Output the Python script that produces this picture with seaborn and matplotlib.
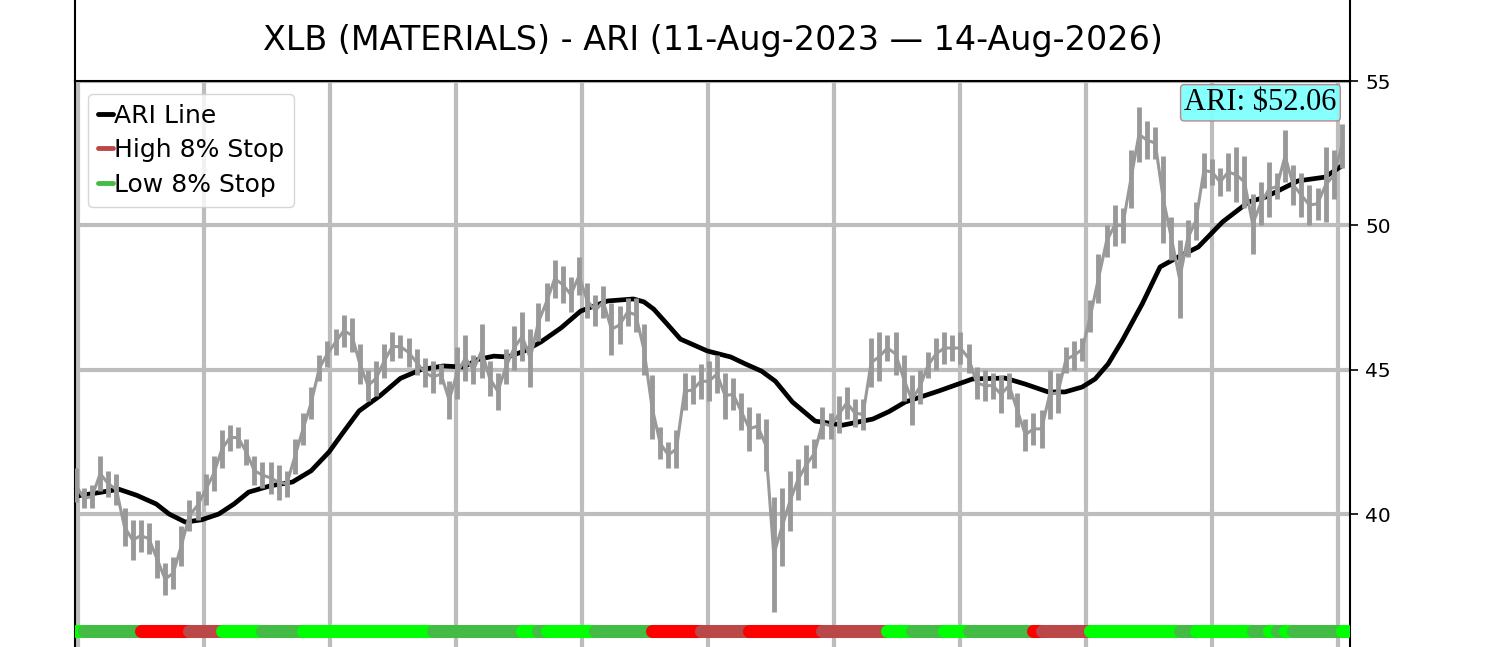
import numpy as np
import matplotlib
matplotlib.use("Agg")
import matplotlib.pyplot as plt
import seaborn as sns

# weekly price ranges, 11-Aug-2023 .. 14-Aug-2026
price_low = [40.4, 40.2, 40.2, 40.8, 40.6, 40.3, 38.9, 38.4, 38.7, 38.6,
             37.8, 37.2, 37.4, 38.2, 39.4, 39.8, 40.3, 40.8, 41.6, 42.2,
             42.3, 41.7, 41.0, 40.9, 40.7, 40.5, 40.6, 41.4, 42.4, 43.3,
             44.6, 45.1, 45.5, 45.8, 45.6, 44.5, 43.9, 44.1, 44.7, 45.3,
             45.4, 45.1, 44.8, 44.4, 44.2, 44.5, 43.3, 44.0, 44.6, 44.5,
             44.7, 44.1, 43.6, 44.5, 45.0, 45.3, 44.4, 46.0, 46.7, 47.5,
             47.3, 47.0, 47.6, 46.8, 46.5, 46.8, 45.5, 45.9, 46.5, 46.3,
             44.8, 42.6, 41.9, 41.6, 41.6, 43.6, 43.8, 44.0, 43.9, 44.2,
             43.3, 43.6, 42.9, 42.2, 42.6, 41.5, 36.6, 38.2, 39.4, 40.5,
             41.0, 41.6, 42.6, 42.6, 42.8, 43.3, 43.0, 42.9, 44.4, 44.6,
             45.3, 44.8, 43.9, 43.1, 43.8, 44.7, 45.0, 45.2, 45.3, 45.2,
             44.9, 44.0, 43.9, 44.0, 43.5, 44.0, 43.0, 42.2, 42.4, 42.3,
             43.3, 43.5, 44.9, 45.0, 45.3, 46.3, 47.3, 48.9, 49.3, 49.4,
             50.6, 52.2, 52.3, 52.3, 49.4, 48.8, 46.8, 48.9, 49.5, 51.3,
             51.4, 51.0, 51.2, 50.8, 50.6, 49.0, 50.0, 50.3, 50.9, 51.5,
             50.7, 50.3, 50.0, 50.2, 50.1, 50.9, 52.0]
price_high = [41.6, 40.9, 41.0, 42.0, 41.5, 41.4, 40.2, 39.8, 39.8, 39.7,
              39.1, 38.3, 38.5, 39.6, 40.5, 40.8, 41.4, 42.0, 42.9, 43.1,
              43.0, 42.6, 42.0, 41.8, 41.8, 41.7, 41.5, 42.6, 43.5, 44.4,
              45.5, 46.0, 46.4, 46.9, 46.8, 45.9, 45.0, 45.3, 45.9, 46.3,
              46.2, 46.1, 45.7, 45.4, 45.3, 45.2, 44.6, 45.8, 46.2, 45.5,
              46.6, 45.3, 44.9, 45.7, 46.5, 47.0, 46.4, 47.3, 48.0, 48.8,
              48.6, 48.2, 48.9, 48.0, 47.6, 47.9, 47.3, 47.2, 47.5, 47.5,
              46.6, 44.8, 43.0, 42.5, 42.9, 44.9, 44.8, 45.2, 45.3, 45.5,
              44.9, 44.7, 44.2, 43.7, 43.5, 43.3, 40.6, 40.9, 41.5, 41.9,
              42.4, 42.6, 43.7, 43.5, 44.1, 44.4, 44.0, 44.0, 46.1, 46.3,
              46.2, 46.3, 45.5, 44.8, 45.0, 45.6, 46.1, 46.3, 46.2, 46.3,
              45.9, 45.1, 45.0, 44.9, 44.8, 44.9, 44.2, 43.3, 43.5, 43.6,
              45.0, 44.9, 45.8, 46.0, 46.1, 47.4, 49.0, 50.0, 50.7, 50.6,
              52.6, 54.1, 53.6, 53.4, 52.4, 50.3, 49.5, 50.2, 50.8, 52.5,
              52.3, 52.0, 52.5, 52.7, 52.4, 51.1, 51.5, 52.2, 51.8, 53.3,
              52.1, 51.8, 51.4, 51.3, 52.7, 52.6, 53.5]

# ARI line, read at these week positions
ari_week = [0, 3, 5.3, 7.5, 9.9, 11.5, 13.5, 15.5, 17.6, 19.5, 21.3, 24,
            26.7, 29, 31.2, 33, 34.9, 37.5, 40, 42.5, 45.3, 47.8, 49.5,
            51.5, 53.2, 55.3, 57.3, 59.8, 62.2, 65.5, 68.7, 70, 71.2, 72.8,
            74.5, 77.8, 80.7, 82.5, 84.5, 86.2, 88.3, 91.1, 94.5, 98.2,
            100.2, 102.2, 106.3, 110.5, 114.5, 117, 119.8, 121.9, 124,
            125.6, 127.2, 128.9, 131.4, 133.6, 135.8, 138.3, 141.3, 144.5,
            146.6, 150.6, 153.9, 156]
ari_value = [40.62, 40.75, 40.86, 40.65, 40.35, 40.0, 39.72, 39.8, 40.0,
             40.35, 40.76, 40.98, 41.11, 41.5, 42.15, 42.85, 43.57, 44.1,
             44.7, 45.0, 45.13, 45.09, 45.35, 45.47, 45.44, 45.65, 45.96,
             46.45, 47.03, 47.38, 47.45, 47.35, 47.1, 46.6, 46.06, 45.65,
             45.44, 45.2, 44.95, 44.6, 43.88, 43.22, 43.08, 43.29, 43.55,
             43.88, 44.26, 44.68, 44.71, 44.5, 44.23, 44.23, 44.4, 44.68,
             45.2, 45.99, 47.28, 48.56, 48.9, 49.25, 50.12, 50.81, 50.98,
             51.54, 51.67, 52.06]

# stop state runs: B=bright green, G=low stop, R=red, D=high stop
state_codes = ['B', 'G', 'R', 'D', 'B', 'G', 'B', 'G', 'B', 'G', 'B', 'G',
               'R', 'D', 'R', 'D', 'B', 'G', 'B', 'G', 'R', 'D', 'B', 'G',
               'B', 'G', 'B', 'G', 'B', 'G', 'B']
state_lengths = [1, 7, 6, 4, 5, 5, 16, 11, 2, 1, 6, 7, 6, 6, 9, 8, 3, 4, 3,
                 8, 1, 6, 11, 2, 7, 2, 1, 1, 1, 6, 1]

state_colors = {'B': '#00ff00', 'G': '#44bb44', 'R': '#ff0000', 'D': '#bb4848'}

weeks = np.arange(len(price_low))
last_week = weeks[-1]

sns.set_style("white")
plt.rcParams['text.color'] = 'black'
plt.rcParams['ytick.color'] = 'black'
plt.rcParams['axes.labelcolor'] = 'black'

fig = plt.figure(figsize=(15, 6.47), dpi=100)
ax = fig.add_axes([0.05, -0.06, 0.85, 0.9348])
tax = fig.add_axes([0.05, 0.8748, 0.85, 0.16])

# grid
xt = np.arange(0.27, 157, 15.52)
ax.set_xticks(xt)
ax.set_yticks([40, 45, 50, 55])
ax.grid(True, color='#bdbdbd', linewidth=3, zorder=0)
ax.set_axisbelow(True)

sns.lineplot(x=ari_week, y=ari_value, ax=ax, color='black', linewidth=3.4,
             zorder=3, label='ARI Line')
ax.vlines(weeks, price_low, price_high, color='#999999', linewidth=3.5, zorder=4)
ax.plot(weeks, (np.array(price_low) + np.array(price_high)) / 2,
        color='#999999', linewidth=2.2, zorder=4)

# stop state stripe along the bottom
start = 0
for code, n in zip(state_codes, state_lengths):
    end = min(start + n, last_week + 0.6)
    ax.plot([start, max(end, start + 0.05)], [35.95, 35.95],
            color=state_colors[code], linewidth=9.4, solid_capstyle='round',
            zorder=5)
    start += n

ax.plot([], [], color='#bb4848', linewidth=3, label='High 8% Stop')
ax.plot([], [], color='#44bb44', linewidth=3, label='Low 8% Stop')

ax.set_xlim(-0.1, 157)
ax.set_ylim(34.05, 55)
ax.yaxis.tick_right()
ax.tick_params(axis='y', labelsize=14.5, length=6, width=1.2, direction='out',
               right=True, left=False, pad=5, colors='black')
ax.tick_params(axis='x', labelbottom=False, bottom=False)
for s in ax.spines.values():
    s.set_color('black')
    s.set_linewidth(1.5)

leg = ax.legend(loc='upper left', fontsize=18, handlelength=0.6,
                handletextpad=0.05, borderaxespad=0.5, framealpha=0.8,
                borderpad=0.4, labelspacing=0.42)
for h in leg.get_lines():
    h.set_linewidth(3.5)

ax.text(0.9895, 0.988, 'ARI: $52.06', transform=ax.transAxes, ha='right',
        va='top', fontsize=22, family='Liberation Serif',
        bbox=dict(boxstyle='round,pad=0.12', facecolor='#80ffff',
                  edgecolor='#c08080', alpha=0.95))

tax.set_xticks([])
tax.set_yticks([])
for s in tax.spines.values():
    s.set_color('black')
    s.set_linewidth(1.5)
tax.text(0.5, 0.39, 'XLB (MATERIALS) - ARI (11-Aug-2023 \u2014 14-Aug-2026)',
         transform=tax.transAxes, ha='center', va='center', fontsize=24)

fig.savefig('out.png', dpi=100)
